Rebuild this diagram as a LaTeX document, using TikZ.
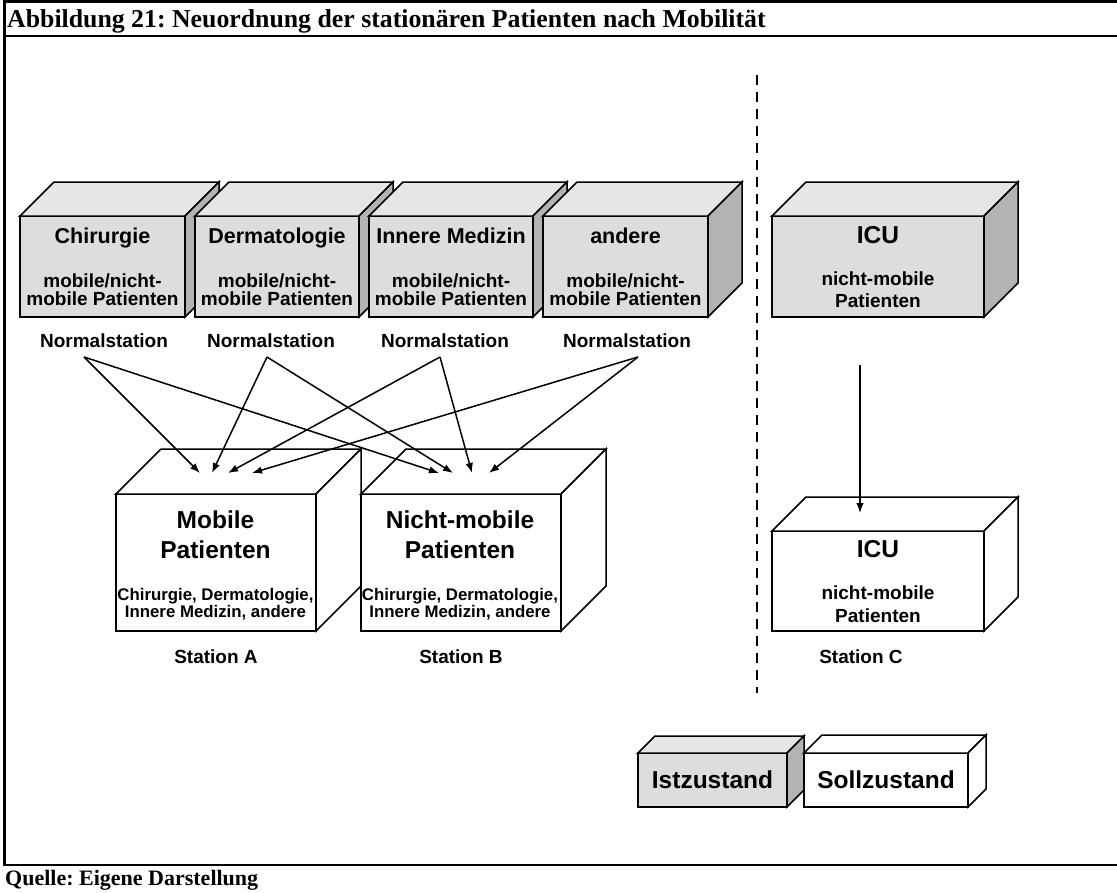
\documentclass[tikz,border=0pt]{standalone}
\usepackage{fontspec}
\setmainfont{Liberation Serif}
\newfontfamily\arialfam{Liberation Sans}
\usetikzlibrary{arrows.meta,calc}

\definecolor{grayfront}{HTML}{DDDDDD}
\definecolor{graytop}{HTML}{E6E6E6}
\definecolor{grayside}{HTML}{B3B3B3}
\definecolor{whitefront}{HTML}{FFFFFF}
\definecolor{whitetop}{HTML}{FFFFFF}
\definecolor{whiteside}{HTML}{FFFFFF}

\newcommand{\fsz}[1]{\fontsize{#1}{#1}\selectfont}

% cuboid: name, left, top, right, bottom, depth, colour set
\newcommand{\cuboid}[7]{%
  \coordinate (#1-nw) at (#2,-#3);
  \coordinate (#1-ne) at (#4,-#3);
  \coordinate (#1-se) at (#4,-#5);
  \coordinate (#1-sw) at (#2,-#5);
  \filldraw[cubeedge, fill=#7front] (#1-nw) rectangle (#1-se);
  \filldraw[cubeedge, fill=#7top] (#1-nw) -- ++(#6,#6) -- ($(#1-ne)+(#6,#6)$) -- (#1-ne) -- cycle;
  \filldraw[cubeedge, fill=#7side] (#1-ne) -- ++(#6,#6) -- ($(#1-se)+(#6,#6)$) -- (#1-se) -- cycle;
}

\tikzset{
  cubeedge/.style={draw=black, line width=1.5pt, line join=miter},
  frameline/.style={line width=2.6pt},
  txt/.style={anchor=base, inner sep=0pt, font=\arialfam\bfseries},
  dept/.style={txt, font=\arialfam\bfseries\fsz{21.5}},
  sub/.style={txt, font=\arialfam\bfseries\fsz{19}},
  big/.style={txt, font=\arialfam\bfseries\fsz{24.5}},
  small/.style={txt, font=\arialfam\bfseries\fsz{16.8}},
  lab/.style={txt, font=\arialfam\bfseries\fsz{19}},
  flow/.style={line width=1.5pt, -{Latex[length=10pt,width=7.5pt]}},
}

\begin{document}
\frenchspacing
\begin{tikzpicture}[x=1pt,y=1pt]
\useasboundingbox (0,0) rectangle (1117,-892);

% frame and caption rows
\draw[frameline] (4.7,0) -- (4.7,-865);
\draw[frameline] (3.4,-1.3) -- (1117,-1.3);
\draw[frameline] (3.4,-36) -- (1117,-36);
\draw[frameline] (3.4,-865) -- (1117,-865);
\node[anchor=base west, inner sep=0pt, font=\bfseries\fsz{25.8}] (title) at (7,-27)
  {Abbildung 21: Neuordnung der stationären Patienten nach Mobilität};
\node[anchor=base west, inner sep=0pt, font=\bfseries\fsz{22}] (source) at (5,-885)
  {Quelle: Eigene Darstellung};

% separator between normal wards and ICU
\draw[line width=2.2pt, dash pattern=on 10pt off 7pt] (757,-75) -- (757,-693);

% current state: normal wards
\cuboid{chir}{20}{216}{185}{317}{34}{gray}
\cuboid{derm}{195}{216}{359}{317}{34}{gray}
\cuboid{inn}{369}{216}{533}{317}{34}{gray}
\cuboid{and}{543}{216}{708}{317}{34}{gray}
\cuboid{icua}{772}{216}{984}{317}{34}{gray}

\node[dept] (chirT) at (102.5,-243) {Chirurgie};
\node[dept] (dermT) at (277,-243) {Dermatologie};
\node[dept] (innT) at (451,-243) {Innere Medizin};
\node[dept] (andT) at (625.5,-243) {andere};
\foreach \n/\x in {chir/102.5, derm/277, inn/451, and/625.5}{
  \node[sub] (\n S1) at (\x,-287) {mobile/nicht-};
  \node[sub] (\n S2) at (\x,-305) {mobile Patienten};
}
\node[big] (icuaT) at (878,-243) {ICU};
\node[sub] (icuaS1) at (878,-285) {nicht-mobile};
\node[sub] (icuaS2) at (878,-307) {Patienten};

\node[lab] (n1) at (104,-347) {Normalstation};
\node[lab] (n2) at (271,-347) {Normalstation};
\node[lab] (n3) at (445,-347) {Normalstation};
\node[lab] (n4) at (627,-347) {Normalstation};

% target state
\cuboid{sta}{116}{494}{316}{631}{45}{white}
\cuboid{stb}{361}{494}{561}{631}{45}{white}
\cuboid{stc}{772}{531}{984}{631}{34}{white}

\node[big] (staT1) at (215.5,-528) {Mobile};
\node[big] (staT2) at (215.5,-558) {Patienten};
\node[small] (staS1) at (215.5,-600) {Chirurgie, Dermatologie,};
\node[small] (staS2) at (215.5,-617) {Innere Medizin, andere};
\node[big] (stbT1) at (460,-528) {Nicht-mobile};
\node[big] (stbT2) at (460,-558) {Patienten};
\node[small] (stbS1) at (460,-600) {Chirurgie, Dermatologie,};
\node[small] (stbS2) at (460,-617) {Innere Medizin, andere};
\node[big] (stcT) at (878,-557) {ICU};
\node[sub] (stcS1) at (878,-599) {nicht-mobile};
\node[sub] (stcS2) at (878,-622) {Patienten};

\node[lab] (la) at (216,-663) {Station A};
\node[lab] (lb) at (461,-663) {Station B};
\node[lab] (lc) at (861,-663) {Station C};

% arrow ends
\coordinate (o1) at (84,-357);
\coordinate (o2) at (267,-357);
\coordinate (o3) at (440,-357);
\coordinate (o4) at (638,-357);
\coordinate (a1) at (200,-473);
\coordinate (a2) at (212,-473);
\coordinate (a3) at (228,-473);
\coordinate (a4) at (252,-473);
\coordinate (b1) at (439,-473);
\coordinate (b2) at (453,-473);
\coordinate (b3) at (472,-473);
\coordinate (b4) at (489,-473);
\coordinate (c0) at (860,-365);
\coordinate (c1) at (860,-513);

\draw[flow] (o1) -- (a1);
\draw[flow] (o1) -- (b1);
\draw[flow] (o2) -- (a2);
\draw[flow] (o2) -- (b2);
\draw[flow] (o3) -- (a3);
\draw[flow] (o3) -- (b3);
\draw[flow] (o4) -- (a4);
\draw[flow] (o4) -- (b4);
\draw[flow] (c0) -- (c1);

% legend
\cuboid{ist}{638}{753}{787}{807}{17}{gray}
\cuboid{soll}{804}{753}{968}{807}{18}{white}
\node[big] (istT) at (712.5,-788) {Istzustand};
\node[big] (sollT) at (886,-788) {Sollzustand};
\end{tikzpicture}
\end{document}
